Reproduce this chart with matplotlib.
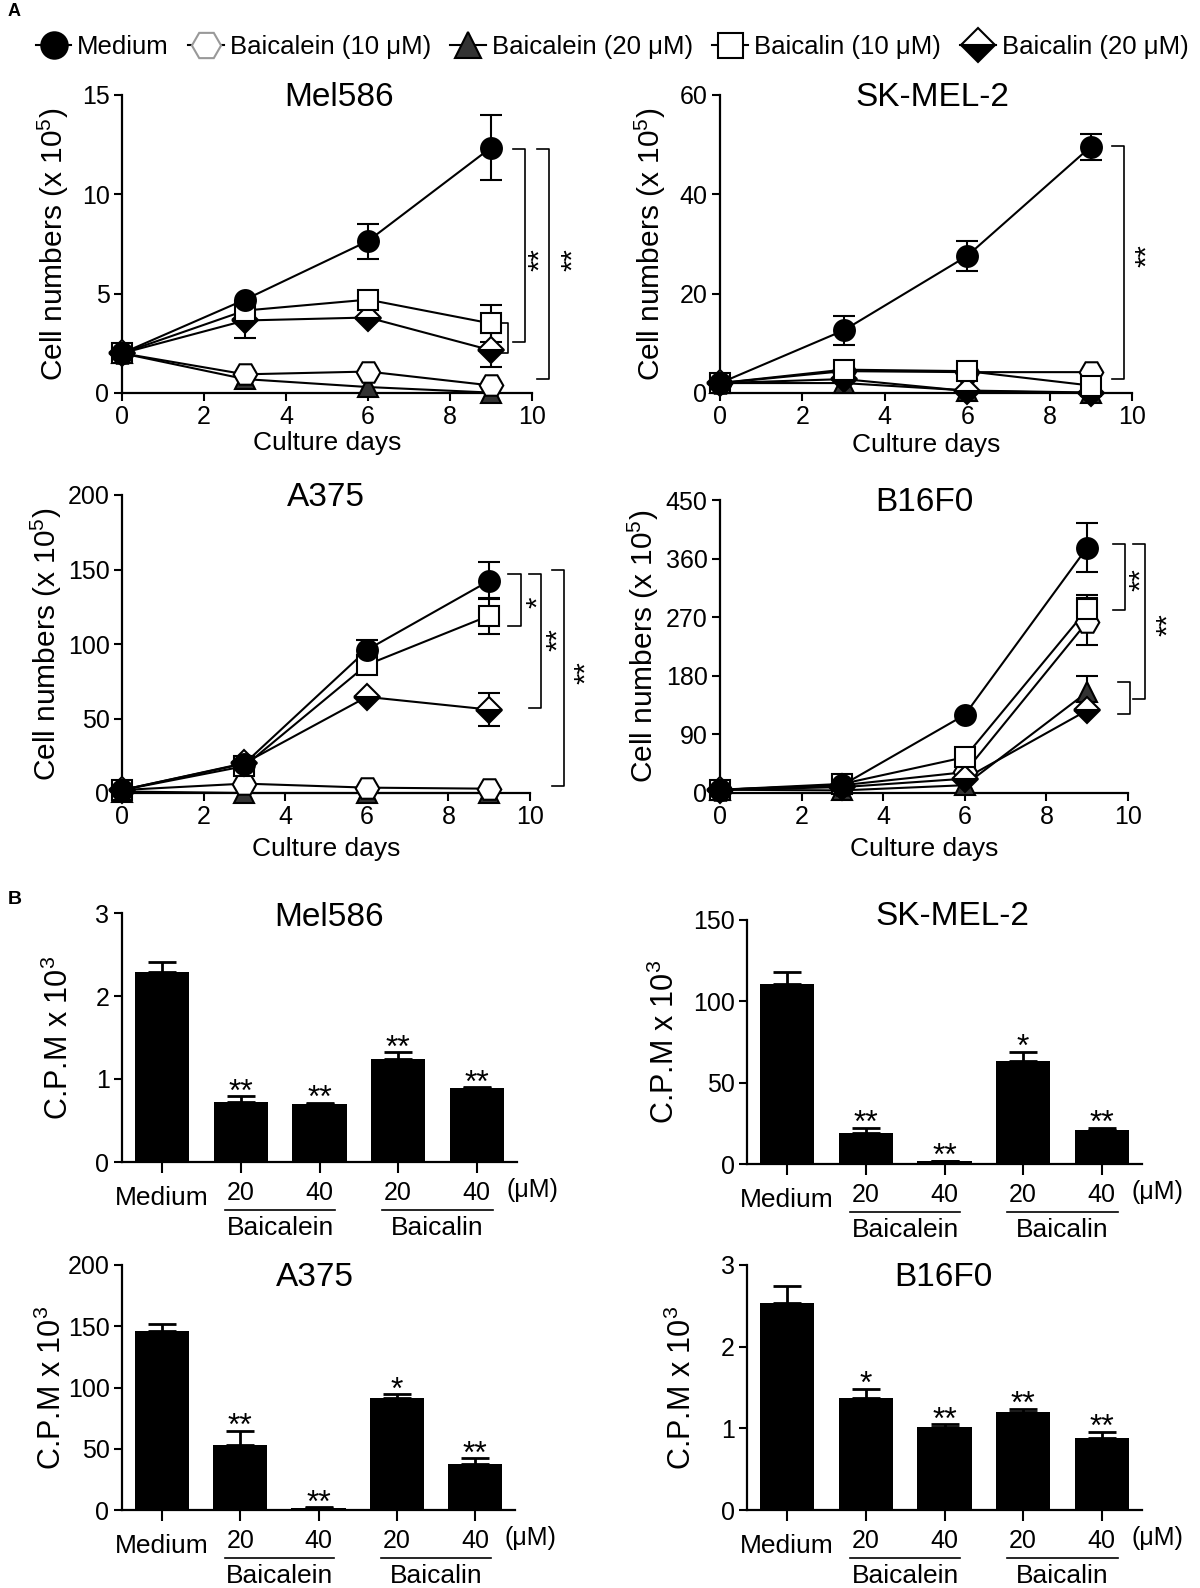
import matplotlib
matplotlib.use("Agg")
import matplotlib.pyplot as plt
from matplotlib import transforms
from matplotlib.lines import Line2D

plt.rcParams["font.family"] = ["Liberation Sans", "DejaVu Sans"]
plt.rcParams["mathtext.fontset"] = "custom"
plt.rcParams["mathtext.rm"] = "Liberation Sans"
plt.rcParams["mathtext.it"] = "Liberation Sans:italic"
plt.rcParams["mathtext.bf"] = "Liberation Sans:bold"

W, H = 1200, 1588

# ---- A: growth curves (cell numbers x 10^5), rows follow SERIES ----
DAYS = [0, 3, 6, 9]
SERIES = ["Medium", "Baicalein (10 μM)", "Baicalein (20 μM)", "Baicalin (10 μM)", "Baicalin (20 μM)"]

MEL586_GROWTH = [
    [2.0, 4.7, 7.65, 12.35],
    [2.0, 0.94, 1.08, 0.38],
    [2.0, 0.7, 0.3, 0.02],
    [2.0, 4.15, 4.7, 3.5],
    [2.0, 3.65, 3.8, 2.15],
]
MEL586_GROWTH_ERR = [
    [0, 0, 0.88, 1.62],
    [0, 0, 0, 0],
    [0, 0, 0, 0],
    [0, 0, 0, 0.95],
    [0, 0.9, 0, 0.85],
]
SK_MEL2_GROWTH = [
    [2.0, 12.6, 27.6, 49.6],
    [2.0, 4.4, 4.2, 4.2],
    [2.0, 2.0, 0.5, 0.1],
    [2.0, 4.7, 4.4, 1.5],
    [2.0, 2.8, 0.4, 0.0],
]
SK_MEL2_GROWTH_ERR = [
    [0, 2.85, 3.0, 2.6],
    [0, 0, 0, 0],
    [0, 0, 0, 0],
    [0, 0, 0, 0],
    [0, 0, 0, 0],
]
A375_GROWTH = [
    [2.0, 19.7, 96.0, 142.4],
    [2.0, 6.3, 3.6, 2.9],
    [1.0, 0.0, 0.0, 0.0],
    [2.0, 18.0, 86.0, 119.0],
    [2.0, 20.0, 64.5, 56.0],
]
A375_GROWTH_ERR = [
    [0, 0, 6.5, 12.5],
    [0, 0, 0, 0],
    [0, 0, 0, 0],
    [0, 0, 0, 12.0],
    [0, 0, 0, 11.3],
]
B16F0_GROWTH = [
    [5, 12, 120, 377],
    [5, 12, 32, 263],
    [5, 4, 12, 155],
    [5, 14, 55, 282],
    [5, 9, 22, 127],
]
B16F0_GROWTH_ERR = [
    [0, 0, 0, 37],
    [0, 0, 0, 36],
    [0, 0, 0, 25],
    [0, 0, 0, 22],
    [0, 0, 0, 0],
]

# significance brackets: (x, y_top, y_bottom) and stars: (x, y, text)
MEL586_BRACKETS = [(9.84, 12.3, 2.57), (10.42, 12.3, 0.72), (9.42, 3.5, 2.0)]
MEL586_STARS = [(10.03, 6.7, "**"), (10.82, 6.7, "**")]
SK_MEL2_BRACKETS = [(9.81, 49.7, 2.9)]
SK_MEL2_STARS = [(10.2, 27.6, "**")]
A375_BRACKETS = [(9.77, 147, 112), (10.28, 147, 57), (10.84, 150, 5)]
A375_STARS = [(10.02, 128, "*"), (10.52, 103, "**"), (11.2, 81, "**")]
B16F0_BRACKETS = [(9.93, 382, 281), (10.42, 382, 145), (10.05, 170, 121)]
B16F0_STARS = [(10.15, 328, "**"), (10.8, 258, "**")]

# ---- B: C.P.M x 10^3 ----
CONDITIONS = ["Medium", "20", "40", "20", "40"]
MEL586_CPM = [2.29, 0.72, 0.70, 1.24, 0.89]
MEL586_CPM_ERR = [0.12, 0.07, 0.01, 0.08, 0.01]
MEL586_CPM_STARS = ["", "**", "**", "**", "**"]
SK_MEL2_CPM = [110.5, 19.3, 1.8, 63.5, 21.0]
SK_MEL2_CPM_ERR = [7.5, 3.0, 0.3, 5.5, 1.0]
SK_MEL2_CPM_STARS = ["", "**", "**", "*", "**"]
A375_CPM = [146.4, 53.0, 1.9, 91.7, 37.3]
A375_CPM_ERR = [5.2, 11.5, 0.3, 2.7, 4.9]
A375_CPM_STARS = ["", "**", "**", "*", "**"]
B16F0_CPM = [2.54, 1.37, 1.02, 1.20, 0.88]
B16F0_CPM_ERR = [0.2, 0.11, 0.03, 0.04, 0.08]
B16F0_CPM_STARS = ["", "*", "**", "**", "**"]

# marker styles per series (same order as SERIES)
MARKERS = [
    dict(marker="o", markersize=15, markerfacecolor="black", markeredgecolor="black"),
    dict(marker="H", markersize=17, markerfacecolor="white", markeredgecolor="black"),
    dict(marker="^", markersize=15, markerfacecolor="#333333", markeredgecolor="black"),
    dict(marker="s", markersize=14, markerfacecolor="white", markeredgecolor="black"),
    dict(marker="D", markersize=13, fillstyle="bottom", markerfacecolor="black",
         markerfacecoloralt="white", markeredgecolor="black"),
]
DRAW_ORDER = [2, 1, 4, 3, 0]

fig = plt.figure(figsize=(W / 100, H / 100), dpi=100)


def add_axes_px(left, right, top, bottom):
    ax = fig.add_axes([left / W, 1 - bottom / H, (right - left) / W, (bottom - top) / H])
    for side in ("top", "right"):
        ax.spines[side].set_visible(False)
    for side in ("left", "bottom"):
        ax.spines[side].set_linewidth(1.6)
    ax.tick_params(direction="out", length=6, width=1.5, labelsize=18, pad=3)
    return ax


def growth_panel(rect, title, means, errs, yticks, title_x, brackets, stars, ylab_off, xlab_off):
    ax = add_axes_px(*rect)
    axw = rect[1] - rect[0]
    axh = rect[3] - rect[2]
    for i in DRAW_ORDER:
        ax.plot(DAYS, means[i], color="black", lw=1.5, zorder=3, clip_on=False)
    for rank, i in enumerate(DRAW_ORDER):
        xs = [d for d, e in zip(DAYS, errs[i]) if e > 0]
        ys = [m for m, e in zip(means[i], errs[i]) if e > 0]
        es = [e for e in errs[i] if e > 0]
        if xs:
            ax.errorbar(xs, ys, yerr=es, fmt="none", ecolor="black", elinewidth=1.5,
                        capsize=8, capthick=1.5, zorder=2)
        ax.plot(DAYS, means[i], linestyle="none", markeredgewidth=1.5,
                zorder=4 + rank, clip_on=False, **MARKERS[i])
    for xb, y1, y2 in brackets:
        ax.plot([xb - 0.3, xb, xb, xb - 0.3], [y1, y1, y2, y2], color="black",
                lw=1.2, clip_on=False)
    for xs_, ys_, s in stars:
        # asterisks sit high in the glyph box, nudge right after rotating
        ax.annotate(s, (xs_, ys_), xytext=(5, 0), textcoords="offset points",
                    rotation=90, ha="center", va="center", fontsize=21,
                    annotation_clip=False)
    ax.set_xlim(0, 10)
    ax.set_ylim(0, yticks[-1])
    ax.set_xticks([0, 2, 4, 6, 8, 10])
    ax.set_yticks(yticks)
    ax.text(title_x, 1.0 - 2 / axh, title,
            transform=transforms.blended_transform_factory(ax.transData, ax.transAxes),
            ha="center", va="center", fontsize=24)
    ax.text(0.5, -xlab_off / axh, "Culture days", transform=ax.transAxes,
            ha="center", va="center", fontsize=19)
    ax.text(-ylab_off / axw, 0.5, "Cell numbers (x 10$^5$)", transform=ax.transAxes,
            rotation=90, ha="center", va="center", fontsize=21.5)
    return ax


def cpm_panel(rect, title, means, errs, stars, yticks, title_pos, ylab_off):
    ax = add_axes_px(*rect)
    axw = rect[1] - rect[0]
    axh = rect[3] - rect[2]
    xs = list(range(len(means)))
    ax.bar(xs, means, width=0.69, color="black", zorder=2)
    ax.errorbar(xs, means, yerr=[[0] * len(errs), errs], fmt="none", ecolor="black",
                elinewidth=2, capsize=10, capthick=2, zorder=1)
    for x, m, e, s in zip(xs, means, errs, stars):
        if s:
            ax.annotate(s, (x, m + e), xytext=(0, -3), textcoords="offset points",
                        ha="center", va="baseline", fontsize=23)
    ax.set_xlim(-0.51, 4.51)
    ax.set_ylim(0, yticks[-1])
    ax.set_yticks(yticks)
    ax.set_xticks(xs)
    ax.set_xticklabels([])
    ax.tick_params(axis="x", length=8)
    trans = transforms.blended_transform_factory(ax.transData, ax.transAxes)
    ax.text(title_pos[0], 1 - title_pos[1] / axh, title, transform=ax.transAxes,
            ha="center", va="center", fontsize=24)
    ax.text(0, -36 / axh, CONDITIONS[0], transform=trans, ha="center", va="center", fontsize=19)
    for x, lab in zip(xs[1:], CONDITIONS[1:]):
        ax.text(x, -31 / axh, lab, transform=trans, ha="center", va="center", fontsize=18)
    ax.text(4.38, -28 / axh, "(μM)", transform=trans, ha="left", va="center", fontsize=18)
    for a, b, name in [(1, 2, "Baicalein"), (3, 4, "Baicalin")]:
        ax.plot([a - 0.2, b + 0.2], [-47.5 / axh] * 2, transform=trans, color="black",
                lw=1.2, clip_on=False)
        ax.text((a + b) / 2, -66 / axh, name, transform=trans, ha="center", va="center", fontsize=19)
    ax.text(-ylab_off / axw, 0.5, "C.P.M x 10$^3$", transform=ax.transAxes,
            rotation=90, ha="center", va="center", fontsize=22)
    return ax


growth_panel((122, 532, 95, 393), "Mel586", MEL586_GROWTH, MEL586_GROWTH_ERR,
             [0, 5, 10, 15], 5.3, MEL586_BRACKETS, MEL586_STARS, 69, 50)
growth_panel((720, 1132, 95, 393), "SK-MEL-2", SK_MEL2_GROWTH, SK_MEL2_GROWTH_ERR,
             [0, 20, 40, 60], 5.15, SK_MEL2_BRACKETS, SK_MEL2_STARS, 70, 52)
growth_panel((122, 530, 495, 793), "A375", A375_GROWTH, A375_GROWTH_ERR,
             [0, 50, 100, 150, 200], 5.0, A375_BRACKETS, A375_STARS, 76, 56)
growth_panel((720, 1128, 500, 793), "B16F0", B16F0_GROWTH, B16F0_GROWTH_ERR,
             [0, 90, 180, 270, 360, 450], 5.0, B16F0_BRACKETS, B16F0_STARS, 77, 56)

cpm_panel((122, 517, 913, 1162), "Mel586", MEL586_CPM, MEL586_CPM_ERR, MEL586_CPM_STARS,
          [0, 1, 2, 3], (0.523, 4), 63)
cpm_panel((747, 1142, 920, 1164), "SK-MEL-2", SK_MEL2_CPM, SK_MEL2_CPM_ERR, SK_MEL2_CPM_STARS,
          [0, 50, 100, 150], (0.519, -3), 82)
cpm_panel((122, 515, 1265, 1510), "A375", A375_CPM, A375_CPM_ERR, A375_CPM_STARS,
          [0, 50, 100, 150, 200], (0.49, 12), 70)
cpm_panel((747, 1142, 1265, 1510), "B16F0", B16F0_CPM, B16F0_CPM_ERR, B16F0_CPM_STARS,
          [0, 1, 2, 3], (0.498, 12), 65)

# legend across the top
handles = []
for i, name in enumerate(SERIES):
    style = dict(MARKERS[i])
    style["markersize"] = style["markersize"] + 4
    if i == 1:
        style["markeredgecolor"] = "#999999"
    handles.append(Line2D([], [], color="black", lw=1.5, markeredgewidth=1.5, **style))
fig.legend(handles, SERIES, loc="center", bbox_to_anchor=(612 / W, 1 - 47 / H), ncol=5,
           frameon=False, fontsize=18.5, handlelength=1.4, handletextpad=0.22,
           columnspacing=0.75, borderaxespad=0)

fig.text(8 / W, 1 - 11 / H, "A", fontsize=13, fontweight="bold", ha="left", va="center")
fig.text(8 / W, 1 - 899 / H, "B", fontsize=14, fontweight="bold", ha="left", va="center")

fig.savefig("out.png", dpi=100)
